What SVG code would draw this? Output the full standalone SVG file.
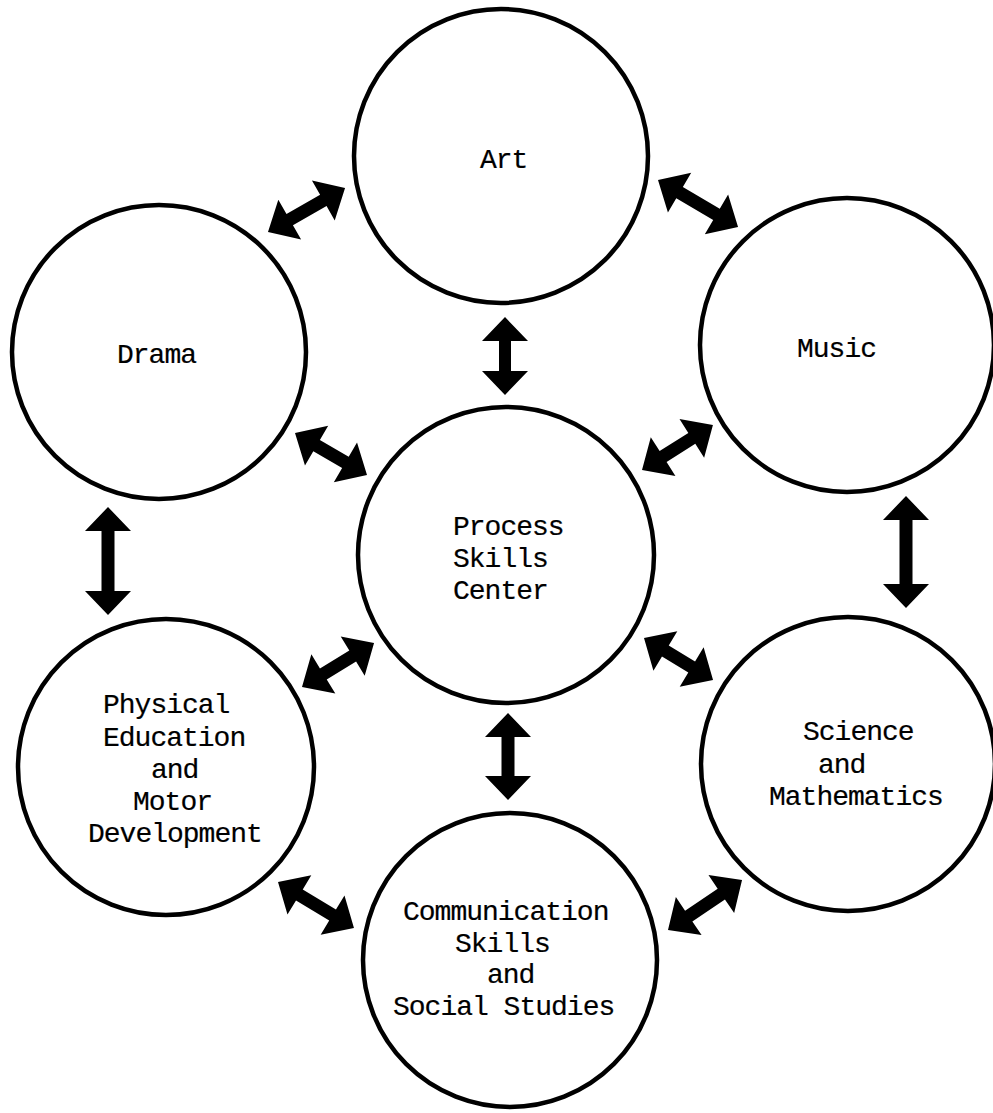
<svg xmlns="http://www.w3.org/2000/svg" width="993" height="1113" viewBox="0 0 993 1113">
<style>
.node circle{fill:#fff;stroke:#000;stroke-width:4.5}
.node text{font-family:"Liberation Mono","DejaVu Sans Mono",monospace;font-size:28px;letter-spacing:-1px;fill:#000;stroke:#000;stroke-width:0.2}
.arr{fill:#000}
</style>
<rect width="993" height="1113" fill="#fff"/>
<g id="connectors">
<path class="arr" transform="translate(268,232) rotate(-29.7)" d="M0,0 L25,-23 L25,-6.5 L63.7,-6.5 L63.7,-23 L88.7,0 L63.7,23 L63.7,6.5 L25,6.5 L25,23 Z"/>
<path class="arr" transform="translate(658,180) rotate(30.4)" d="M0,0 L25,-23 L25,-6.5 L67.8,-6.5 L67.8,-23 L92.8,0 L67.8,23 L67.8,6.5 L25,6.5 L25,23 Z"/>
<path class="arr" transform="translate(505,317) rotate(90)" d="M0,0 L24,-23 L24,-6 L54,-6 L54,-23 L78,0 L54,23 L54,6 L24,6 L24,23 Z"/>
<path class="arr" transform="translate(295,433) rotate(30.3)" d="M0,0 L25,-23 L25,-6.5 L58.4,-6.5 L58.4,-23 L83.4,0 L58.4,23 L58.4,6.5 L25,6.5 L25,23 Z"/>
<path class="arr" transform="translate(642,470) rotate(-32.4)" d="M0,0 L25,-23 L25,-6.5 L59,-6.5 L59,-23 L84,0 L59,23 L59,6.5 L25,6.5 L25,23 Z"/>
<path class="arr" transform="translate(108,507) rotate(90)" d="M0,0 L24,-23 L24,-6.5 L84,-6.5 L84,-23 L108,0 L84,23 L84,6.5 L24,6.5 L24,23 Z"/>
<path class="arr" transform="translate(906,496) rotate(90)" d="M0,0 L24,-23 L24,-6.5 L88,-6.5 L88,-23 L112,0 L88,23 L88,6.5 L24,6.5 L24,23 Z"/>
<path class="arr" transform="translate(302,687) rotate(-31.4)" d="M0,0 L25,-23 L25,-6.5 L59.4,-6.5 L59.4,-23 L84.4,0 L59.4,23 L59.4,6.5 L25,6.5 L25,23 Z"/>
<path class="arr" transform="translate(644,638) rotate(31.3)" d="M0,0 L25,-23 L25,-6.5 L55.8,-6.5 L55.8,-23 L80.8,0 L55.8,23 L55.8,6.5 L25,6.5 L25,23 Z"/>
<path class="arr" transform="translate(508,713) rotate(90)" d="M0,0 L24,-23 L24,-6.5 L63,-6.5 L63,-23 L87,0 L63,23 L63,6.5 L24,6.5 L24,23 Z"/>
<path class="arr" transform="translate(278,882) rotate(31.2)" d="M0,0 L25,-23 L25,-6.5 L63.8,-6.5 L63.8,-23 L88.8,0 L63.8,23 L63.8,6.5 L25,6.5 L25,23 Z"/>
<path class="arr" transform="translate(668,930) rotate(-34)" d="M0,0 L25,-23 L25,-6.5 L64.3,-6.5 L64.3,-23 L89.3,0 L64.3,23 L64.3,6.5 L25,6.5 L25,23 Z"/>
</g>
<g id="art" class="node">
<circle cx="501" cy="156" r="147"/>
<text x="480" y="168">Art</text>
</g>
<g id="drama" class="node">
<circle cx="159" cy="352" r="147"/>
<text x="117" y="363">Drama</text>
</g>
<g id="music" class="node">
<circle cx="847" cy="345" r="147"/>
<text x="797" y="357">Music</text>
</g>
<g id="process" class="node">
<circle cx="506" cy="555" r="148"/>
<text x="453" y="535">Process</text>
<text x="453" y="567">Skills</text>
<text x="453" y="599">Center</text>
</g>
<g id="physical" class="node">
<circle cx="166" cy="767" r="148"/>
<text x="103" y="713">Physical</text>
<text x="103" y="746">Education</text>
<text x="151" y="778">and</text>
<text x="133" y="810">Motor</text>
<text x="88" y="842">Development</text>
</g>
<g id="science" class="node">
<circle cx="848" cy="764" r="147"/>
<text x="803" y="740">Science</text>
<text x="818" y="773">and</text>
<text x="769" y="805">Mathematics</text>
</g>
<g id="communication" class="node">
<circle cx="510" cy="960" r="147"/>
<text x="403" y="920">Communication</text>
<text x="455" y="952">Skills</text>
<text x="487" y="983">and</text>
<text x="393" y="1015">Social Studies</text>
</g>
</svg>
